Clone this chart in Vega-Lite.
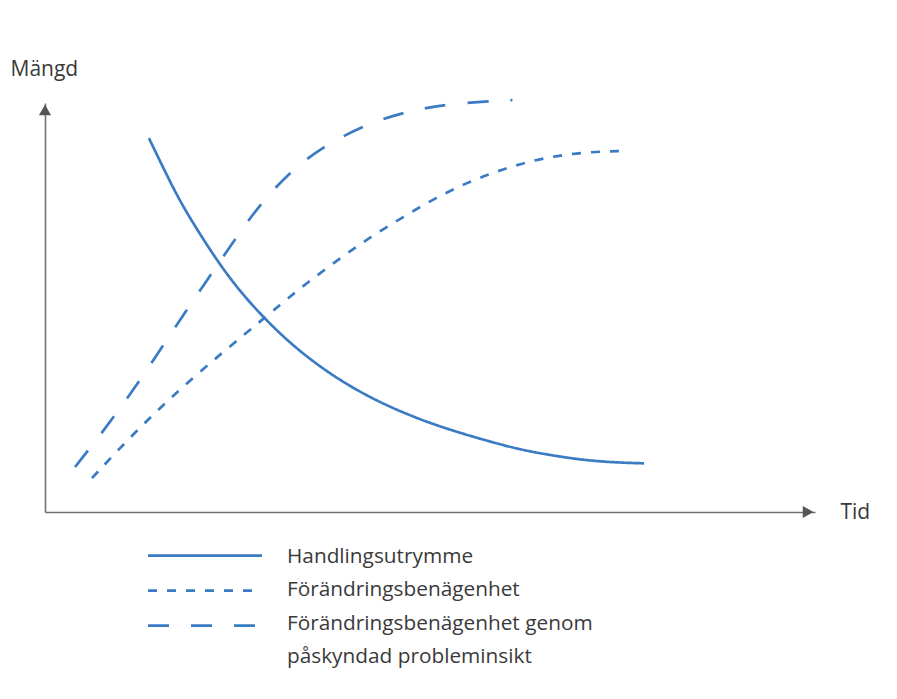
{
  "$schema": "https://vega.github.io/schema/vega-lite/v6.json",
  "width": 770,
  "height": 409,
  "autosize": {"type": "none"},
  "padding": {"left": 45, "top": 103, "right": 82, "bottom": 187},
  "background": "white",
  "config": {"view": {"stroke": null}, "font": "Open Sans"},
  "datasets": {
    "curves": [
      {"series": "Handlingsutrymme", "t": 13.5, "v": 91.4},
      {"series": "Handlingsutrymme", "t": 15.6, "v": 83.2},
      {"series": "Handlingsutrymme", "t": 17.5, "v": 76.1},
      {"series": "Handlingsutrymme", "t": 19.5, "v": 69.8},
      {"series": "Handlingsutrymme", "t": 22.5, "v": 61.0},
      {"series": "Handlingsutrymme", "t": 25.3, "v": 54.0},
      {"series": "Handlingsutrymme", "t": 28.3, "v": 47.7},
      {"series": "Handlingsutrymme", "t": 31.8, "v": 41.3},
      {"series": "Handlingsutrymme", "t": 35.7, "v": 35.5},
      {"series": "Handlingsutrymme", "t": 39.6, "v": 30.7},
      {"series": "Handlingsutrymme", "t": 43.9, "v": 26.4},
      {"series": "Handlingsutrymme", "t": 48.7, "v": 22.6},
      {"series": "Handlingsutrymme", "t": 52.6, "v": 20.1},
      {"series": "Handlingsutrymme", "t": 56.5, "v": 17.9},
      {"series": "Handlingsutrymme", "t": 61.3, "v": 15.4},
      {"series": "Handlingsutrymme", "t": 65.6, "v": 13.9},
      {"series": "Handlingsutrymme", "t": 69.9, "v": 12.7},
      {"series": "Handlingsutrymme", "t": 74.0, "v": 12.1},
      {"series": "Handlingsutrymme", "t": 77.8, "v": 11.9},
      {"series": "Förändringsbenägenhet", "t": 6.1, "v": 8.3},
      {"series": "Förändringsbenägenhet", "t": 12.3, "v": 20.8},
      {"series": "Förändringsbenägenhet", "t": 19.1, "v": 32.8},
      {"series": "Förändringsbenägenhet", "t": 26.6, "v": 44.5},
      {"series": "Förändringsbenägenhet", "t": 30.5, "v": 50.6},
      {"series": "Förändringsbenägenhet", "t": 34.0, "v": 56.0},
      {"series": "Förändringsbenägenhet", "t": 38.3, "v": 62.0},
      {"series": "Förändringsbenägenhet", "t": 42.0, "v": 66.9},
      {"series": "Förändringsbenägenhet", "t": 46.4, "v": 72.0},
      {"series": "Förändringsbenägenhet", "t": 50.6, "v": 76.7},
      {"series": "Förändringsbenägenhet", "t": 55.2, "v": 80.9},
      {"series": "Förändringsbenägenhet", "t": 60.0, "v": 84.2},
      {"series": "Förändringsbenägenhet", "t": 64.7, "v": 86.6},
      {"series": "Förändringsbenägenhet", "t": 69.9, "v": 88.0},
      {"series": "Förändringsbenägenhet", "t": 75.3, "v": 88.3},
      {"series": "Förändringsbenägenhet genom påskyndad probleminsikt", "t": 3.9, "v": 11.0},
      {"series": "Förändringsbenägenhet genom påskyndad probleminsikt", "t": 7.5, "v": 19.6},
      {"series": "Förändringsbenägenhet genom påskyndad probleminsikt", "t": 11.0, "v": 28.6},
      {"series": "Förändringsbenägenhet genom påskyndad probleminsikt", "t": 14.3, "v": 37.7},
      {"series": "Förändringsbenägenhet genom påskyndad probleminsikt", "t": 17.5, "v": 46.9},
      {"series": "Förändringsbenägenhet genom påskyndad probleminsikt", "t": 20.8, "v": 56.0},
      {"series": "Förändringsbenägenhet genom påskyndad probleminsikt", "t": 24.0, "v": 64.8},
      {"series": "Förändringsbenägenhet genom påskyndad probleminsikt", "t": 27.5, "v": 74.3},
      {"series": "Förändringsbenägenhet genom påskyndad probleminsikt", "t": 31.4, "v": 82.4},
      {"series": "Förändringsbenägenhet genom påskyndad probleminsikt", "t": 35.7, "v": 89.0},
      {"series": "Förändringsbenägenhet genom påskyndad probleminsikt", "t": 42.0, "v": 95.1},
      {"series": "Förändringsbenägenhet genom påskyndad probleminsikt", "t": 47.7, "v": 98.3},
      {"series": "Förändringsbenägenhet genom påskyndad probleminsikt", "t": 53.3, "v": 100.0},
      {"series": "Förändringsbenägenhet genom påskyndad probleminsikt", "t": 60.7, "v": 100.7}
    ],
    "legend": [
      {"series": "Handlingsutrymme", "order": 1},
      {"series": "Förändringsbenägenhet", "order": 2},
      {"series": "Förändringsbenägenhet genom påskyndad probleminsikt", "order": 3}
    ],
    "labels": [
      {"line": "Handlingsutrymme", "row": 1},
      {"line": "Förändringsbenägenhet", "row": 2},
      {"line": "Förändringsbenägenhet genom", "row": 3},
      {"line": "påskyndad probleminsikt", "row": 4}
    ]
  },
  "layer": [
    {
      "data": {"name": "curves"},
      "mark": {"type": "line", "interpolate": "basis", "strokeWidth": 2.7, "color": "#3b7bc4", "strokeCap": "butt"},
      "encoding": {
        "x": {
          "field": "t", "type": "quantitative",
          "scale": {"domain": [0, 100], "nice": false, "zero": false},
          "axis": {
            "title": "Tid", "labels": false, "ticks": false, "grid": false,
            "domainColor": "#707070", "domainWidth": 1.6,
            "titleX": 795, "titleY": 6, "titleAlign": "left", "titleBaseline": "alphabetic",
            "titleFontSize": 21, "titleFontWeight": "normal", "titleColor": "#3a3a3a", "titleFont": "Open Sans"
          }
        },
        "y": {
          "field": "v", "type": "quantitative",
          "scale": {"domain": [0, 100], "nice": false, "zero": false},
          "axis": {
            "title": "Mängd", "labels": false, "ticks": false, "grid": false,
            "domainColor": "#707070", "domainWidth": 1.6,
            "titleAngle": 0, "titleX": -35, "titleY": -28, "titleAlign": "left", "titleBaseline": "alphabetic",
            "titleFontSize": 21, "titleFontWeight": "normal", "titleColor": "#3a3a3a", "titleFont": "Open Sans"
          }
        },
        "strokeDash": {
          "field": "series", "type": "nominal",
          "scale": {
            "domain": ["Handlingsutrymme", "Förändringsbenägenhet", "Förändringsbenägenhet genom påskyndad probleminsikt"],
            "range": [[1, 0], [9, 10], [21, 22]]
          },
          "legend": null
        }
      }
    },
    {
      "data": {"values": [{}]},
      "mark": {"type": "point", "shape": "triangle-up", "filled": true, "size": 150, "color": "#555555", "opacity": 1},
      "encoding": {
        "x": {"datum": 0, "type": "quantitative", "scale": {"domain": [0, 100], "nice": false, "zero": false}, "axis": null},
        "y": {"datum": 98.3, "type": "quantitative", "scale": {"domain": [0, 100], "nice": false, "zero": false}, "axis": null}
      }
    },
    {
      "data": {"values": [{}]},
      "mark": {"type": "point", "shape": "triangle-right", "filled": true, "size": 150, "color": "#555555", "opacity": 1},
      "encoding": {
        "x": {"datum": 99.1, "type": "quantitative", "scale": {"domain": [0, 100], "nice": false, "zero": false}, "axis": null},
        "y": {"datum": 0, "type": "quantitative", "scale": {"domain": [0, 100], "nice": false, "zero": false}, "axis": null}
      }
    },
    {
      "data": {"name": "legend"},
      "mark": {"type": "rule", "strokeWidth": 2.8, "color": "#3b7bc4", "strokeCap": "butt"},
      "encoding": {
        "x": {"value": 103},
        "x2": {"value": 217},
        "y": {"field": "order", "type": "quantitative", "scale": {"domain": [1, 3], "range": [452.7, 522.7], "nice": false, "zero": false}, "axis": null},
        "strokeDash": {"field": "series", "type": "nominal", "legend": null}
      }
    },
    {
      "data": {"name": "labels"},
      "mark": {"type": "text", "align": "left", "baseline": "alphabetic", "fontSize": 20.8, "color": "#3a3a3a", "font": "Open Sans"},
      "encoding": {
        "x": {"value": 242},
        "y": {"field": "row", "type": "quantitative", "scale": {"domain": [1, 4], "range": [460, 560], "nice": false, "zero": false}, "axis": null},
        "text": {"field": "line"}
      }
    }
  ],
  "resolve": {"scale": {"y": "independent", "x": "independent"}, "axis": {"x": "independent", "y": "independent"}}
}
